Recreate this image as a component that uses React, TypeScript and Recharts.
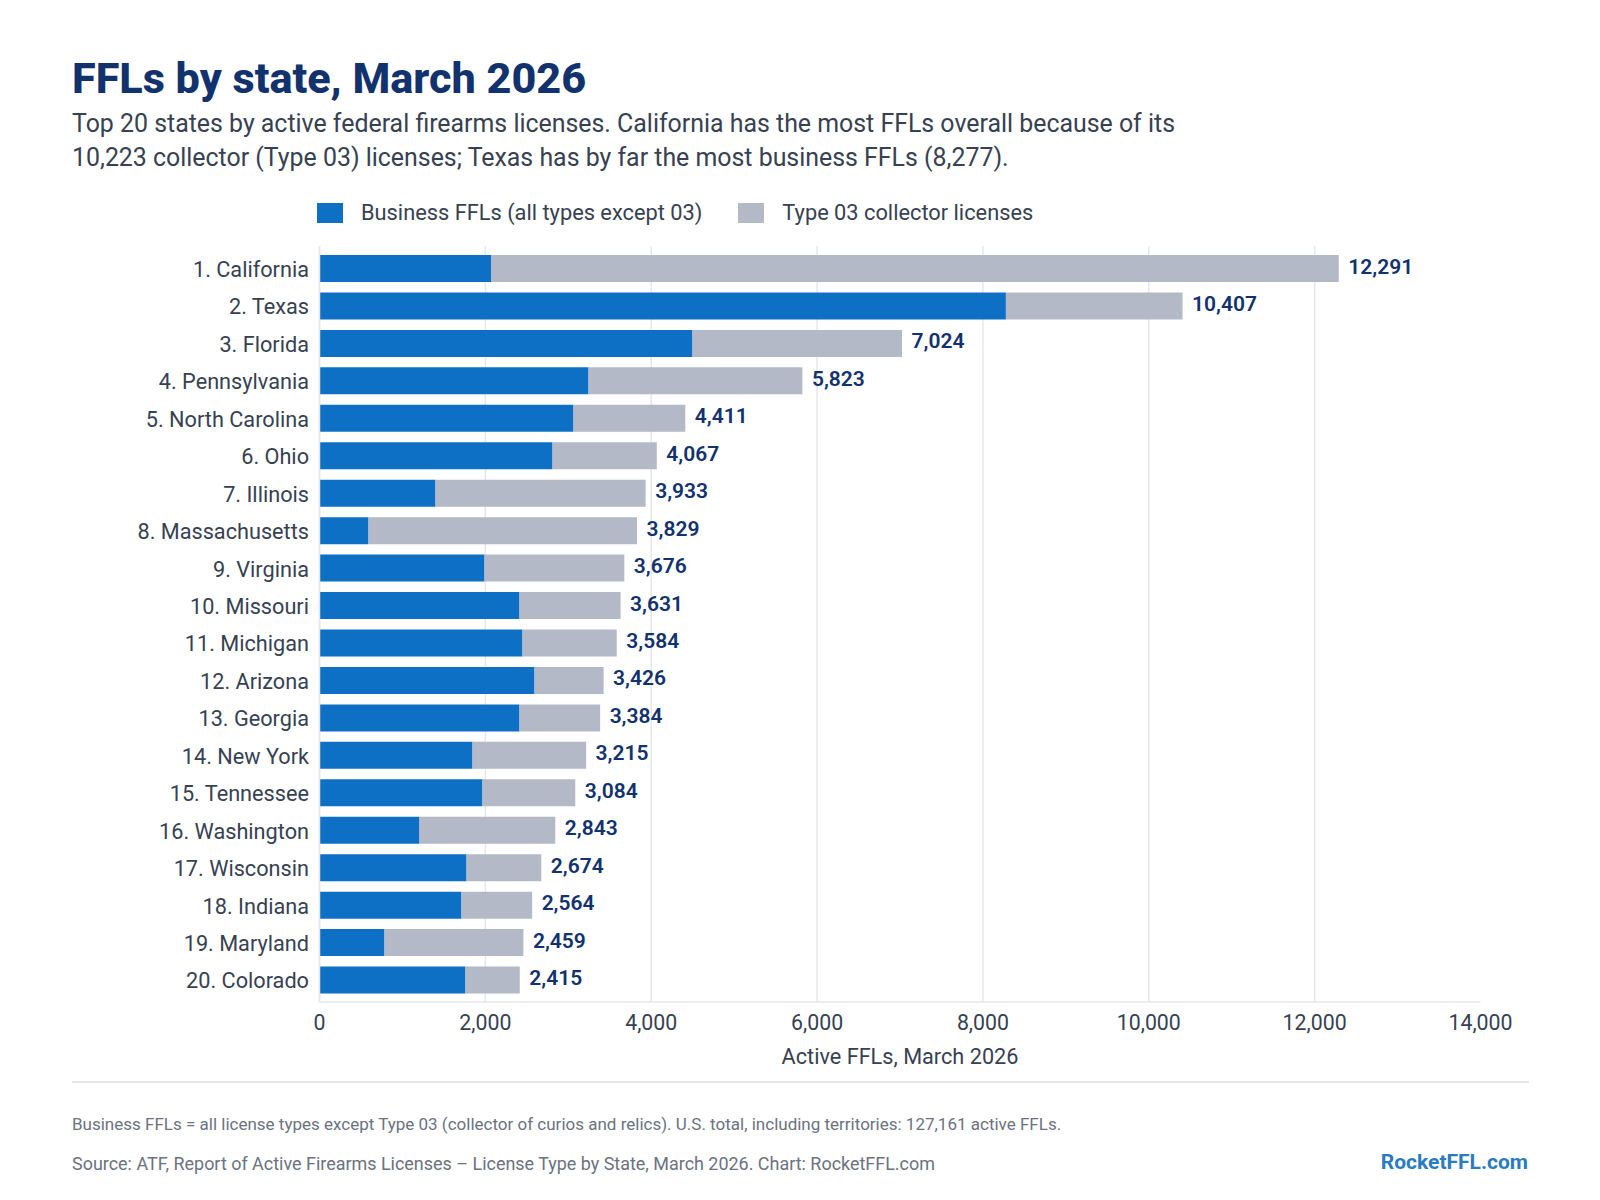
import { Bar, BarChart, CartesianGrid, Legend, LabelList, XAxis, YAxis } from 'recharts';

const states = [
	'1. California', '2. Texas', '3. Florida', '4. Pennsylvania', '5. North Carolina',
	'6. Ohio', '7. Illinois', '8. Massachusetts', '9. Virginia', '10. Missouri',
	'11. Michigan', '12. Arizona', '13. Georgia', '14. New York', '15. Tennessee',
	'16. Washington', '17. Wisconsin', '18. Indiana', '19. Maryland', '20. Colorado',
];
const businessFfls = [2068, 8277, 4498, 3244, 3063, 2810, 1399, 591, 1990, 2412, 2448, 2593, 2412, 1845, 1965, 1206, 1773, 1712, 784, 1760];
const collectorFfls = [10223, 2130, 2526, 2579, 1348, 1257, 2534, 3238, 1686, 1219, 1136, 833, 972, 1370, 1119, 1637, 901, 852, 1675, 655];
const totals = [12291, 10407, 7024, 5823, 4411, 4067, 3933, 3829, 3676, 3631, 3584, 3426, 3384, 3215, 3084, 2843, 2674, 2564, 2459, 2415];
const xTicks = [0, 2000, 4000, 6000, 8000, 10000, 12000, 14000];
const gridValues = [0, 2000, 4000, 6000, 8000, 10000, 12000];

const rows = states.map((state, i) => ({
	state,
	business: businessFfls[i],
	collector: collectorFfls[i],
	total: totals[i],
}));

const FONT = 'Roboto, sans-serif';
const BLUE = '#0D70C4';
const GREY = '#B3B9C7';
const NAVY = '#12326E';
const INK = '#374151';
const MUTED = '#6B7280';
const RULE = '#E5E7EB';

const textAt = (left: number, top: number, size: number, color: string, weight = 400) => ({
	position: 'absolute' as const,
	left,
	top,
	fontSize: size,
	color,
	fontWeight: weight,
	lineHeight: 1,
	whiteSpace: 'nowrap' as const,
});

function TotalLabel({ x, y, width, height, value }: any) {
	return (
		<text
			x={x + width + 9.5}
			y={y + height / 2 - 2}
			dominantBaseline="central"
			fontFamily={FONT}
			fontSize={21}
			fontWeight={600}
			fill={NAVY}
		>
			{Number(value).toLocaleString('en-US')}
		</text>
	);
}

function LegendRow({ payload }: any) {
	return (
		<div style={{ display: 'flex', alignItems: 'center', fontFamily: FONT, fontSize: 21.8, color: INK }}>
			{(payload || []).map((item: any) => (
				<div key={item.value} style={{ display: 'flex', alignItems: 'center', marginRight: 36 }}>
					<span style={{ width: 26, height: 20, background: item.color, marginRight: 18 }} />
					<span style={{ whiteSpace: 'nowrap' }}>{item.value}</span>
				</div>
			))}
		</div>
	);
}

export default function App() {
	return (
		<div style={{ position: 'absolute', left: 0, top: 0, width: 1600, height: 1200, background: '#fff', fontFamily: FONT, overflow: 'hidden' }}>
			<div style={textAt(72, 57, 43.2, NAVY, 800)}>FFLs by state, March 2026</div>
			<div style={textAt(72, 112, 24.9, INK)}>
				Top 20 states by active federal firearms licenses. California has the most FFLs overall because of its
			</div>
			<div style={textAt(72, 146, 24.9, INK)}>
				10,223 collector (Type 03) licenses; Texas has by far the most business FFLs (8,277).
			</div>

			<div style={{ position: 'absolute', left: 0, top: 0 }}>
				<BarChart
					width={1600}
					height={1200}
					layout="vertical"
					data={rows}
					margin={{ top: 246, right: 119.5, bottom: 136, left: 0 }}
				>
					<CartesianGrid vertical horizontal={false} verticalValues={gridValues} stroke={RULE} strokeWidth={1.5} />
					<XAxis
						type="number"
						domain={[0, 14000]}
						ticks={xTicks}
						interval={0}
						tickFormatter={(v: number) => v.toLocaleString('en-US')}
						tickLine={false}
						axisLine={{ stroke: RULE, strokeWidth: 1.5 }}
						height={62}
						tickMargin={7}
						tick={{ fontFamily: FONT, fontSize: 21.3, fill: INK }}
						label={{ value: 'Active FFLs, March 2026', position: 'insideBottom', offset: 0, style: { fontFamily: FONT, fontSize: 21.7, fill: INK } }}
					/>
					<YAxis
						type="category"
						dataKey="state"
						width={319.5}
						interval={0}
						padding={{ top: 4, bottom: 3 }}
						tickLine={false}
						axisLine={{ stroke: RULE, strokeWidth: 1.5 }}
						tickMargin={4.5}
						tick={{ fontFamily: FONT, fontSize: 21.7, fill: INK, dy: 0.5 }}
					/>
					<Legend
						layout="horizontal"
						verticalAlign="middle"
						align="center"
						content={<LegendRow />}
						wrapperStyle={{ position: 'absolute', left: 317, top: 200, width: 'auto', height: 26 }}
					/>
					<Bar dataKey="business" name="Business FFLs (all types except 03)" stackId="ffl" fill={BLUE} barSize={27} isAnimationActive={false} />
					<Bar dataKey="collector" name="Type 03 collector licenses" stackId="ffl" fill={GREY} barSize={27} isAnimationActive={false}>
						<LabelList dataKey="total" content={<TotalLabel />} />
					</Bar>
				</BarChart>
			</div>

			<div style={{ position: 'absolute', left: 72, top: 1081, width: 1457, height: 2, background: RULE }} />
			<div style={textAt(72, 1116, 17, MUTED)}>
				Business FFLs = all license types except Type 03 (collector of curios and relics). U.S. total, including territories: 127,161 active FFLs.
			</div>
			<div style={textAt(72, 1155, 17.95, MUTED)}>
				Source: ATF, Report of Active Firearms Licenses – License Type by State, March 2026. Chart: RocketFFL.com
			</div>
			<div style={{ ...textAt(0, 1152, 21, '#2A7BBF', 700), left: 'auto', right: 72 }}>RocketFFL.com</div>
		</div>
	);
}
